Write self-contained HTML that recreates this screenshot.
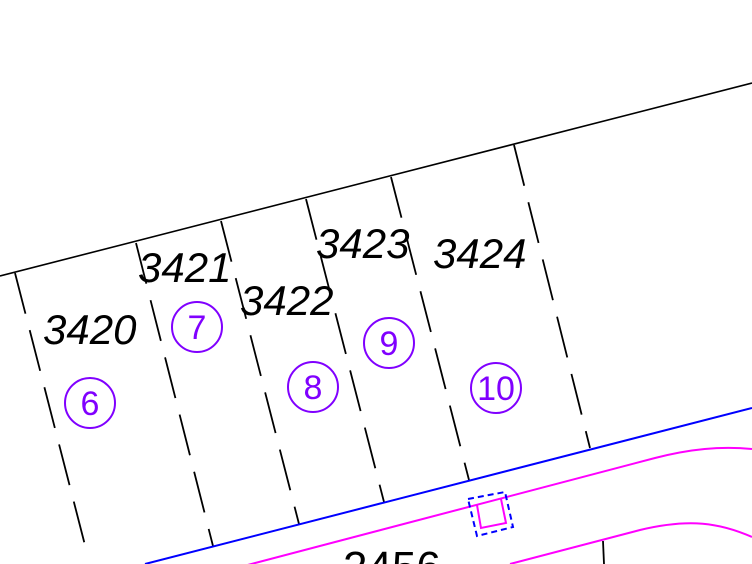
<!DOCTYPE html>
<html><head><meta charset="utf-8"><style>
html,body{margin:0;padding:0;background:#fff;}
svg{display:block;}
</style></head><body>
<svg width="752" height="564" viewBox="0 0 752 564" xmlns="http://www.w3.org/2000/svg">
<rect width="752" height="564" fill="#fff"/>
<!-- top boundary -->
<line x1="0" y1="276" x2="752" y2="83" stroke="#000" stroke-width="1.6"/>
<!-- lot dividers -->
<g stroke="#000" stroke-width="1.8" stroke-dasharray="42 17" fill="none">
<line x1="15" y1="273" x2="87" y2="553"/>
<line x1="136" y1="243" x2="213" y2="546"/>
<line x1="221" y1="221" x2="299" y2="524"/>
<line x1="306" y1="199" x2="384" y2="502"/>
<line x1="391" y1="177" x2="469" y2="480"/>
<line x1="514" y1="145" x2="590" y2="448"/>
</g>
<line x1="603" y1="541" x2="604" y2="564" stroke="#000" stroke-width="1.8"/>
<!-- blue line -->
<line x1="145" y1="564" x2="752" y2="408" stroke="#0000ff" stroke-width="2"/>
<!-- pink lines -->
<path d="M240,567 L655,458 C690,449 720,446 752,449" stroke="#ff00ff" stroke-width="2" fill="none"/>
<path d="M510,564 L640,530 C690,518 720,523 752,537" stroke="#ff00ff" stroke-width="2" fill="none"/>
<!-- squares -->
<polygon points="468,499 505,492 513,527 477,536" fill="none" stroke="#0000ff" stroke-width="2" stroke-dasharray="6 4"/>
<polyline points="477,505 481,528 506,523 501,499" fill="none" stroke="#ff00ff" stroke-width="2"/>
<!-- labels -->
<g font-family="Liberation Sans, sans-serif" font-size="42" font-style="italic" fill="#000">
<text x="43" y="344">3420</text>
<text x="138" y="282">3421</text>
<text x="240" y="315">3422</text>
<text x="316" y="258">3423</text>
<text x="433" y="268">3424</text>
</g>
<text x="343" y="582" font-family="Liberation Sans, sans-serif" font-size="44" fill="#000">2456</text>
<!-- circles -->
<g stroke="#8000ff" stroke-width="2" fill="none">
<circle cx="90" cy="403" r="25"/>
<circle cx="197" cy="327" r="25"/>
<circle cx="313" cy="387" r="25"/>
<circle cx="389" cy="343" r="25"/>
<circle cx="496" cy="388" r="25"/>
</g>
<g font-family="Liberation Sans, sans-serif" font-size="34" fill="#8000ff" text-anchor="middle">
<text x="90" y="415">6</text>
<text x="197" y="339">7</text>
<text x="313" y="399">8</text>
<text x="389" y="355">9</text>
<text x="496" y="400">10</text>
</g>
</svg>
</body></html>
